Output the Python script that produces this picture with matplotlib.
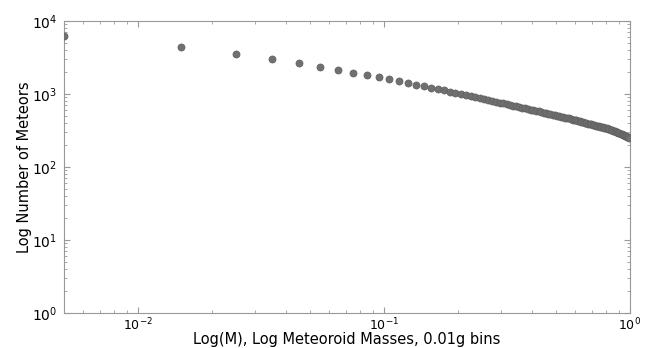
import numpy as np
import matplotlib
matplotlib.use("Agg")
import matplotlib.pyplot as plt

# bin centres, 0.01 g bins
masses = np.arange(100) * 0.01 + 0.005

counts = [
    6170, 4365, 3530, 2990, 2660, 2370, 2135, 1963, 1803, 1690,
    1595, 1510, 1420, 1330, 1275, 1225, 1170, 1122, 1078, 1035,
    1003, 969, 936, 907, 879, 851, 828, 804, 784, 762,
    746, 727, 709, 694, 678, 664, 649, 635, 623, 609,
    598, 587, 576, 565, 556, 546, 537, 529, 520, 512,
    504, 497, 489, 483, 475, 468, 462, 455, 447, 440,
    434, 427, 421, 415, 410, 403, 398, 393, 388, 383,
    377, 373, 368, 363, 360, 355, 352, 349, 345, 342,
    339, 335, 329, 324, 318, 313, 308, 303, 299, 294,
    289, 285, 280, 276, 273, 268, 264, 261, 257, 253,
]

x_label = "Log(M), Log Meteoroid Masses, 0.01g bins"
y_label = "Log Number of Meteors"

fig = plt.figure(figsize=(6.51, 3.48), dpi=100)
ax = fig.add_axes([64 / 651, 1 - 313 / 348, 566 / 651, 292 / 348])

ax.scatter(masses, counts, s=26, color="#707070", edgecolors="#606060",
           linewidths=0.5, zorder=3, clip_on=True)

ax.set_xscale("log")
ax.set_yscale("log")
ax.set_xlim(0.005, 1.0)
ax.set_ylim(1, 1e4)

ax.set_xlabel(x_label, fontsize=10.5, labelpad=-1)
ax.set_ylabel(y_label, fontsize=10.5, labelpad=0)

for side in ax.spines.values():
    side.set_color("#999999")
ax.tick_params(which="both", direction="in", top=True, right=True,
               color="#999999")
ax.tick_params(which="major", length=4)
ax.tick_params(which="minor", length=2)
ax.tick_params(axis="x", which="major", labelsize=9, pad=3)
ax.tick_params(axis="y", which="major", labelsize=10, pad=5)

fig.savefig("out.png", dpi=100)
